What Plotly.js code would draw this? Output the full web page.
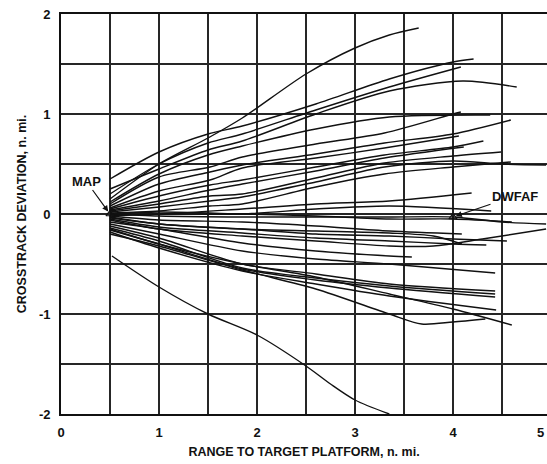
<!DOCTYPE html>
<html>
<head>
<meta charset="utf-8">
<script src="https://cdn.plot.ly/plotly-3.0.1.min.js"></script>
<style>html,body{margin:0;padding:0;background:#fff}#chart{width:547px;height:464px}</style>
</head>
<body>
<div id="chart"></div>
<script>
// Range to target platform (n. mi.) for each flight track
const trackRange = [
  [0.5,1.0,1.5,1.85,2.5,3.0,3.35,3.65],          // A
  [0.5,1.0,1.5,1.85,2.6,3.35,4.0,4.21],          // B
  [0.5,1.0,1.5,1.85,2.6,3.35,4.08],              // C
  [0.5,1.0,1.5,1.85,2.6,3.35,4.1,4.65],          // D
  [0.5,1.0,1.5,1.85,2.6,3.35,4.38],              // E
  [0.5,1.0,1.52,1.85,2.6,3.3,4.0,4.08],          // F
  [0.5,1.0,1.52,1.85,2.6,3.3,4.0,4.59],          // G
  [0.5,1.0,1.52,1.85,2.6,3.3,4.06],              // H
  [0.5,1.0,1.52,1.85,2.6,3.3,4.0,4.31],          // I
  [0.5,1.0,1.52,1.85,2.6,3.3,4.11],              // J
  [0.5,1.0,1.52,1.85,2.6,3.3,4.0,4.49],          // K
  [0.5,1.0,1.52,1.85,2.6,3.3,4.0,4.5,4.95],      // L
  [0.5,1.0,1.52,1.85,2.6,3.3,4.0,4.59],          // M
  [0.5,1.0,1.85,2.6,3.35,4.19],                  // N
  [0.5,1.0,1.85,2.6,3.35,4.39],                  // O
  [0.5,1.0,1.85,2.6,3.35,4.0,4.5,4.95],          // P (DWFAF)
  [0.5,1.0,1.85,2.6,3.35,4.0,4.6],               // Q
  [0.5,1.0,1.85,2.6,3.35,4.09],                  // R
  [0.5,1.0,1.85,2.6,3.35,4.0,4.55],              // S
  [0.5,1.0,1.85,2.6,3.35,4.0,4.34],              // T
  [0.5,1.0,1.85,2.6,3.35,3.8,4.09],              // U
  [0.5,1.0,1.85,2.6,3.35,3.8,4.3,4.95],          // V
  [0.5,1.0,1.85,2.6,3.35,3.58],                  // W
  [0.5,1.0,1.85,2.6,3.35,4.43],                  // X
  [0.5,1.0,1.85,2.6,3.35,4.43],                  // Y1
  [0.5,1.0,1.85,2.6,3.35,4.43],                  // Y2
  [0.5,1.0,1.85,2.6,3.35,4.43],                  // Y3
  [0.5,1.0,1.85,2.6,3.35,4.44],                  // Z
  [0.5,1.0,1.85,2.6,3.35,4.0,4.6],               // AA
  [0.5,1.0,1.85,2.6,3.35,3.68,4.0,4.33],         // AB
  [0.52,1.0,1.5,2.0,2.5,2.75,3.0,3.35]           // lowest track
];
// Crosstrack deviation (n. mi.) for each flight track
const trackDeviation = [
  [0.15,0.50,0.76,0.96,1.40,1.66,1.79,1.86],
  [0.35,0.62,0.80,0.88,1.10,1.35,1.52,1.55],
  [0.20,0.50,0.71,0.80,1.04,1.27,1.47],
  [0.25,0.45,0.64,0.73,1.00,1.23,1.33,1.27],
  [0.12,0.40,0.59,0.68,0.85,0.97,0.99],
  [0.10,0.37,0.47,0.57,0.70,0.81,1.00,1.02],
  [0.08,0.30,0.42,0.49,0.60,0.71,0.80,0.94],
  [0.06,0.23,0.34,0.46,0.56,0.66,0.78],
  [0.05,0.18,0.29,0.34,0.47,0.59,0.67,0.73],
  [0.04,0.13,0.24,0.30,0.43,0.56,0.67],
  [0.03,0.10,0.18,0.20,0.36,0.51,0.58,0.62],
  [0.02,0.07,0.13,0.17,0.32,0.47,0.53,0.50,0.49],
  [0.01,0.03,0.08,0.10,0.27,0.40,0.47,0.52],
  [0.00,0.00,0.05,0.10,0.13,0.21],
  [-0.02,0.00,0.00,0.05,0.08,0.03],
  [0.00,-0.02,-0.03,-0.03,-0.03,-0.03,-0.08,-0.10],
  [0.00,0.02,0.00,-0.02,-0.05,-0.05,-0.08],
  [-0.02,-0.06,-0.08,-0.12,-0.17,-0.20],
  [-0.03,-0.10,-0.15,-0.20,-0.22,-0.25,-0.27],
  [-0.05,-0.13,-0.19,-0.24,-0.27,-0.30,-0.31],
  [-0.04,-0.10,-0.15,-0.17,-0.19,-0.22,-0.30],
  [-0.06,-0.15,-0.22,-0.27,-0.32,-0.32,-0.25,-0.15],
  [-0.08,-0.15,-0.29,-0.37,-0.42,-0.43],
  [-0.10,-0.20,-0.37,-0.45,-0.50,-0.59],
  [-0.12,-0.24,-0.50,-0.60,-0.70,-0.77],
  [-0.14,-0.27,-0.54,-0.64,-0.72,-0.80],
  [-0.16,-0.30,-0.55,-0.66,-0.74,-0.83],
  [-0.18,-0.34,-0.57,-0.70,-0.82,-0.96],
  [-0.15,-0.30,-0.50,-0.63,-0.80,-0.95,-1.11],
  [-0.20,-0.32,-0.56,-0.75,-1.00,-1.10,-1.08,-1.05],
  [-0.42,-0.73,-1.00,-1.21,-1.52,-1.70,-1.86,-2.00]
];
// Marked points
const markLabels = ["MAP", "DWFAF"];
const markRange = [0.5, 4.0];
const markDeviation = [0.0, -0.03];
const xTickVals = [0,1,2,3,4];
const xEdgeTick = 5;   // sits at the right edge of the page
const yTickVals = [-2,-1,0,1,2];
const xMax = 486 / 98;  // 98 px per n. mi. so the grid lands on whole pixels

const traces = trackRange.map((xs, i) => ({
  type: 'scatter', mode: 'lines', x: xs, y: trackDeviation[i],
  line: {color: '#111', width: 1.4, shape: 'spline', smoothing: 0.8},
  hoverinfo: 'skip', showlegend: false
}));
traces.push({
  type: 'scatter', mode: 'markers', x: markRange, y: markDeviation,
  marker: {symbol: 'triangle-up-open', size: 7, color: '#111', line: {width: 1.2}},
  showlegend: false, cliponaxis: false
});

const font = {family: 'Liberation Sans, Arial, sans-serif', color: '#111'};
const boldFont = (s) => ({family: font.family, size: s, color: '#111', weight: 'bold'});
const gridStyle = {gridcolor: '#262626', gridwidth: 1.5};
const layout = {
  width: 547, height: 464,
  margin: {l: 61, r: 0, t: 14, b: 50},
  paper_bgcolor: '#fff', plot_bgcolor: '#fff',
  showlegend: false,
  font: font,
  xaxis: Object.assign({
    range: [0, xMax], tickvals: xTickVals, ticktext: xTickVals.map(String),
    showgrid: true,
    minor: Object.assign({dtick: 0.5, tick0: 0, showgrid: true}, gridStyle),
    zeroline: false, showline: true, linecolor: '#111', linewidth: 1.8, mirror: true,
    ticks: 'outside', ticklen: 6, tickcolor: 'rgba(0,0,0,0)',
    tickfont: boldFont(13),
    title: {text: 'RANGE TO TARGET PLATFORM, n. mi.', standoff: 8, font: boldFont(12.5)},
    automargin: false, fixedrange: true
  }, gridStyle),
  yaxis: Object.assign({
    range: [-2, 2], tickvals: yTickVals, ticktext: yTickVals.map(String),
    showgrid: true,
    minor: Object.assign({dtick: 0.5, tick0: 0, showgrid: true}, gridStyle),
    zeroline: false, showline: true, linecolor: '#111', linewidth: 1.8,
    ticks: 'outside', ticklen: 6, tickcolor: 'rgba(0,0,0,0)',
    tickfont: boldFont(13),
    title: {text: 'CROSSTRACK DEVIATION, n. mi.', standoff: 10, font: boldFont(12.5)},
    automargin: false, fixedrange: true
  }, gridStyle),
  annotations: [
    {x: markRange[0], y: markDeviation[0], xref: 'x', yref: 'y', text: markLabels[0],
     showarrow: true, arrowhead: 2, arrowsize: 1, arrowwidth: 1.2, arrowcolor: '#111',
     ax: -24, ay: -33, standoff: 3, font: boldFont(13)},
    {x: markRange[1], y: markDeviation[1], xref: 'x', yref: 'y', text: markLabels[1],
     showarrow: true, arrowhead: 2, arrowsize: 1, arrowwidth: 1.2, arrowcolor: '#111',
     ax: 62, ay: -21, standoff: 3, font: boldFont(13)},
    {x: 1, y: 0, xref: 'paper', yref: 'paper', yanchor: 'top',
     xanchor: 'right', xshift: -1, yshift: -9, text: String(xEdgeTick), showarrow: false, font: boldFont(13)}
  ]
};
Plotly.newPlot('chart', traces, layout, {staticPlot: true, displayModeBar: false});
</script>
</body>
</html>
